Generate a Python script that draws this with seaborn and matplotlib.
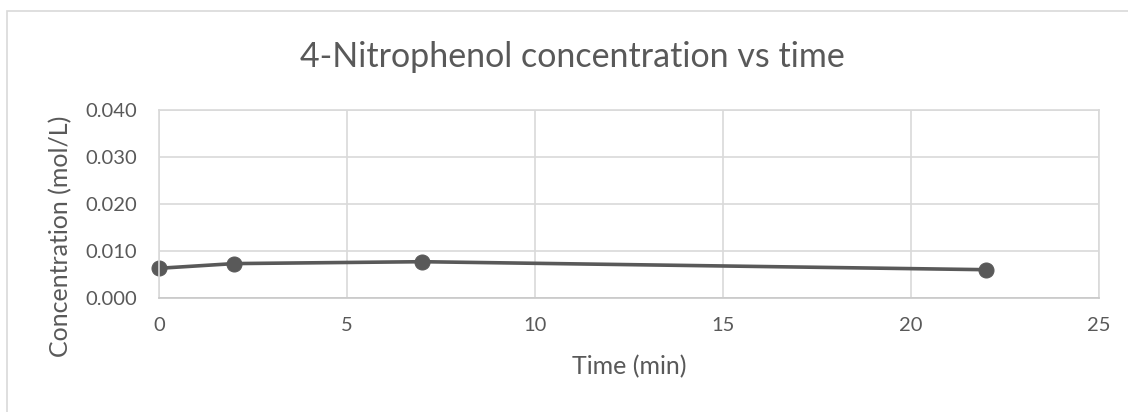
import numpy as np
import pandas as pd
import seaborn as sns
import matplotlib.pyplot as plt
from matplotlib.patches import Rectangle

# Data
time_min = [0, 2, 7, 22]
concentration = [0.0063, 0.0073, 0.0077, 0.0060]

df = pd.DataFrame({"Time (min)": time_min, "Concentration (mol/L)": concentration})

sns.set_theme(style="white")
plt.rcParams['font.family'] = ['Lato', 'DejaVu Sans']

grey = "#595959"
grid = "#d9d9d9"

fig = plt.figure(figsize=(11.28, 4.12), dpi=100)
ax = fig.add_axes([0.141, 0.277, 0.833, 0.456])

# chart area border (partly cut off, as in the original)
fig.patches.append(Rectangle((0.006, -0.05), 1.2, 1.023, transform=fig.transFigure,
                             fill=False, edgecolor=grid, linewidth=1.2))

sns.lineplot(data=df, x="Time (min)", y="Concentration (mol/L)", ax=ax,
             color=grey, linewidth=2.6, marker="o", markersize=10.8,
             markeredgecolor=grey, markerfacecolor=grey, clip_on=False)

ax.set_xlim(0, 25)
ax.set_ylim(0, 0.04)
ax.set_xticks(np.arange(0, 26, 5))
yt = np.arange(0, 0.041, 0.01)
ax.set_yticks(yt)
ax.set_yticklabels([f"{v:.3f}" for v in yt])
ax.grid(True, color=grid, linewidth=1.2)
ax.set_axisbelow(True)
for s in ax.spines.values():
    s.set_color(grid)
    s.set_linewidth(1.2)
ax.spines["bottom"].set_color("#c8c8c8")
ax.tick_params(length=0, labelsize=14.5, colors=grey)
ax.tick_params(axis="y", pad=16)
ax.tick_params(axis="x", pad=14)

ax.set_xlabel("Time (min)", fontsize=18, color=grey, va="center")
ax.xaxis.set_label_coords(0.5, -0.367)
ax.set_ylabel("Concentration (mol/L)", fontsize=18, color=grey, va="center")
ax.yaxis.set_label_coords(-0.105, 0.33)
fig.text(0.507, 0.862, "4-Nitrophenol concentration vs time", ha="center", va="center",
         fontsize=24.5, color=grey)

plt.savefig("out.png", dpi=100)
